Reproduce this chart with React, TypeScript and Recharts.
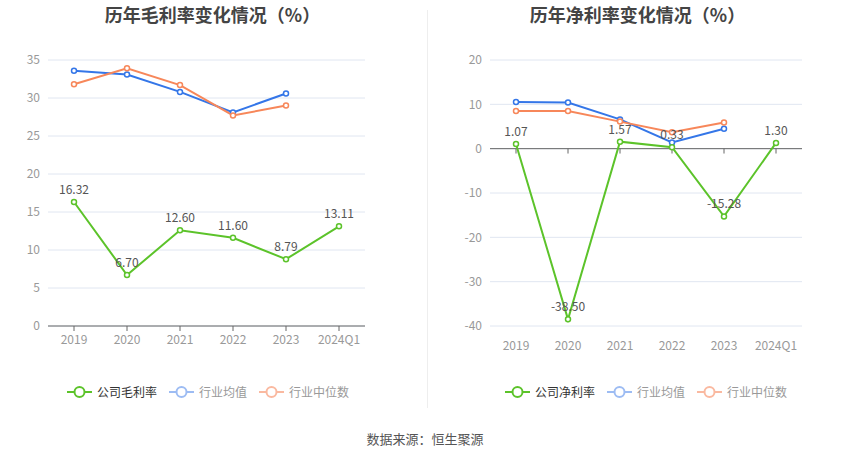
import React from "react";
import { LineChart, Line, XAxis, YAxis, CartesianGrid, LabelList, ReferenceLine } from "recharts";

const years = ["2019", "2020", "2021", "2022", "2023", "2024Q1"];

const grossCompany = [16.32, 6.7, 12.6, 11.6, 8.79, 13.11];
const grossAvg = [33.6, 33.1, 30.8, 28.1, 30.6, null];
const grossMedian = [31.8, 33.9, 31.7, 27.7, 29.0, null];

const netCompany = [1.07, -38.5, 1.57, 0.33, -15.28, 1.3];
const netAvg = [10.5, 10.4, 6.6, 1.4, 4.5, null];
const netMedian = [8.5, 8.5, 6.1, 3.7, 5.9, null];

const grossTicks = [0, 5, 10, 15, 20, 25, 30, 35];
const netTicks = [-40, -30, -20, -10, 0, 10, 20];

const GREEN = "#5cc32a";
const BLUE = "#3476e8";
const ORANGE = "#f7875a";
const FONT = "'Noto Sans CJK SC', 'Noto Sans', sans-serif";

const grossData = years.map((y, i) => ({ year: y, company: grossCompany[i], avg: grossAvg[i], median: grossMedian[i] }));
const netData = years.map((y, i) => ({ year: y, company: netCompany[i], avg: netAvg[i], median: netMedian[i] }));

const tickStyle = { fill: "#999", fontSize: 12, fontFamily: FONT };

function LegendRow({ first, left }: { first: string; left: number }) {
  const items = [
    { name: first, color: GREEN, text: "#333" },
    { name: "行业均值", color: "#9dbcf3", text: "#999" },
    { name: "行业中位数", color: "#fab9a0", text: "#999" },
  ];
  return (
    <div style={{ position: "absolute", left, top: 383, display: "flex", alignItems: "center", fontFamily: FONT, fontSize: 12 }}>
      {items.map((it) => (
        <div key={it.name} style={{ display: "flex", alignItems: "center", marginRight: 12 }}>
          <svg width={25} height={16} style={{ marginRight: 5 }}>
            <line x1={0} y1={8} x2={25} y2={8} stroke={it.color} strokeWidth={2} />
            <circle cx={12.5} cy={8} r={5} fill="#fff" stroke={it.color} strokeWidth={2} />
          </svg>
          <span style={{ color: it.text }}>{it.name}</span>
        </div>
      ))}
    </div>
  );
}

export default function App() {
  const dot = (c: string) => ({ r: 2.5, stroke: c, strokeWidth: 1.5, fill: "#fff" });
  const label = (
    <LabelList dataKey="company" position="top" offset={8} fill="#555" fontSize={12} fontFamily={FONT} formatter={(v: any) => Number(v).toFixed(2)} />
  );
  const titleStyle: React.CSSProperties = { position: "absolute", width: 425, top: 1, textAlign: "center", fontSize: 18, fontWeight: "bold", color: "#444" };
  return (
    <div style={{ position: "fixed", left: 0, top: 0, width: 850, height: 459, background: "#fff", fontFamily: FONT }}>
      <div style={{ ...titleStyle, left: 0 }}>历年毛利率变化情况（%）</div>
      <div style={{ ...titleStyle, left: 425 }}>历年净利率变化情况（%）</div>
      <div style={{ position: "absolute", left: 427, top: 10, width: 1, height: 398, background: "#eee" }} />

      <div style={{ position: "absolute", left: 0, top: 0 }}>
        <LineChart width={425} height={459} data={grossData} margin={{ top: 60, right: 60, left: 8, bottom: 103 }}>
          <CartesianGrid vertical={false} stroke="#e0e6f1" />
          <XAxis dataKey="year" height={30} padding={{ left: 26, right: 26 }} tick={tickStyle} axisLine={{ stroke: "#666" }} tickLine={{ stroke: "#666" }} tickSize={5} tickMargin={4} />
          <YAxis domain={[0, 35]} ticks={grossTicks} width={40} tick={tickStyle} axisLine={false} tickLine={false} tickMargin={2} interval={0} />
          <Line dataKey="avg" stroke={BLUE} strokeWidth={2} dot={dot(BLUE)} isAnimationActive={false} />
          <Line dataKey="median" stroke={ORANGE} strokeWidth={2} dot={dot(ORANGE)} isAnimationActive={false} />
          <Line dataKey="company" stroke={GREEN} strokeWidth={2} dot={dot(GREEN)} isAnimationActive={false}>
            {label}
          </Line>
        </LineChart>
      </div>

      <div style={{ position: "absolute", left: 425, top: 0 }}>
        <LineChart width={425} height={459} data={netData} margin={{ top: 60, right: 48, left: 25, bottom: 103 }}>
          <CartesianGrid vertical={false} stroke="#e0e6f1" />
          <XAxis dataKey="year" height={30} padding={{ left: 26, right: 26 }} tick={tickStyle} axisLine={false} tickLine={false} tickMargin={9} />
          <YAxis domain={[-40, 20]} ticks={netTicks} width={40} tick={tickStyle} axisLine={false} tickLine={false} tickMargin={2} interval={0} />
          <ReferenceLine y={0} stroke="#666" />
          {years.map((y) => (
            <ReferenceLine key={y} segment={[{ x: y, y: 0 }, { x: y, y: -1.1 }]} stroke="#666" />
          ))}
          <Line dataKey="avg" stroke={BLUE} strokeWidth={2} dot={dot(BLUE)} isAnimationActive={false} />
          <Line dataKey="median" stroke={ORANGE} strokeWidth={2} dot={dot(ORANGE)} isAnimationActive={false} />
          <Line dataKey="company" stroke={GREEN} strokeWidth={2} dot={dot(GREEN)} isAnimationActive={false}>
            {label}
          </Line>
        </LineChart>
      </div>

      <LegendRow first="公司毛利率" left={67} />
      <LegendRow first="公司净利率" left={505} />

      <div style={{ position: "absolute", left: 0, width: 850, top: 429, textAlign: "center", fontSize: 13, color: "#555" }}>
        数据来源：恒生聚源
      </div>
    </div>
  );
}
